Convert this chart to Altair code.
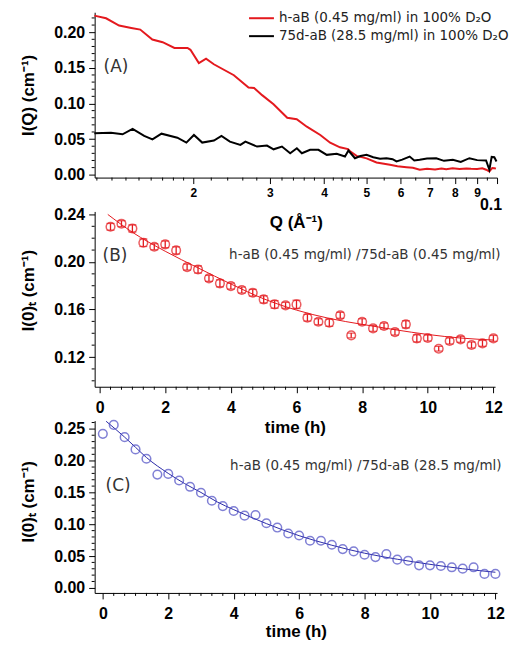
import altair as alt
import pandas as pd

# ---------------- Panel A: I(Q) vs Q (log) ----------------
q_red = [0.01184, 0.0126, 0.0135, 0.0144, 0.0151, 0.0161, 0.0170, 0.0181, 0.0194, 0.0197,
         0.0206, 0.0214, 0.0223, 0.0248, 0.0268, 0.0276, 0.0288, 0.0306, 0.0329, 0.0346,
         0.0365, 0.0392, 0.0413, 0.0435, 0.0454, 0.0459, 0.0475, 0.0501, 0.0528, 0.0567,
         0.0590, 0.0619, 0.0640, 0.0664, 0.0690, 0.0720, 0.0745, 0.0764, 0.0790, 0.0820,
         0.0850, 0.0871, 0.0900, 0.0925, 0.0944, 0.0960, 0.0975, 0.0986, 0.0994]
i_red = [0.2233, 0.2195, 0.2093, 0.2060, 0.2037, 0.1898, 0.1860, 0.1780, 0.1780, 0.1753,
         0.1567, 0.1628, 0.1550, 0.1396, 0.1223, 0.1218, 0.1117, 0.0990, 0.0800, 0.0780,
         0.0674, 0.0558, 0.0450, 0.0385, 0.0360, 0.0330, 0.0265, 0.0230, 0.0172, 0.0140,
         0.0120, 0.0106, 0.0098, 0.0070, 0.0085, 0.0075, 0.0088, 0.0078, 0.0090, 0.0080,
         0.0088, 0.0084, 0.0082, 0.0090, 0.0070, 0.0046, 0.0095, 0.0092, 0.0085]

q_black = [0.01184, 0.01293, 0.01375, 0.0145, 0.01542, 0.01611, 0.0169, 0.01838, 0.01928, 0.02007,
           0.02097, 0.02231, 0.02322, 0.02428, 0.02567, 0.02636, 0.02804, 0.02955, 0.03061, 0.03199,
           0.03342, 0.03462, 0.03555, 0.03714, 0.03882, 0.04057, 0.04276, 0.04468, 0.0455, 0.0471,
           0.04850, 0.05009, 0.0519, 0.05380, 0.05566, 0.0575, 0.0587, 0.0605, 0.06294, 0.0645,
           0.06636, 0.0690, 0.07246, 0.0755, 0.07914, 0.0825, 0.08638, 0.0900, 0.09435, 0.09601,
           0.0972, 0.09857, 0.0997]
i_black = [0.0581, 0.0590, 0.0567, 0.0642, 0.0544, 0.0497, 0.0576, 0.0520, 0.0451, 0.0558,
           0.0451, 0.0479, 0.0544, 0.0465, 0.0419, 0.0465, 0.0395, 0.0409, 0.0357, 0.0395,
           0.0301, 0.0371, 0.0301, 0.0349, 0.0349, 0.0279, 0.0293, 0.0255, 0.0339, 0.0232,
           0.0262, 0.0279, 0.0246, 0.0225, 0.0232, 0.0218, 0.0186, 0.0212, 0.0255, 0.0200,
           0.0209, 0.0228, 0.0232, 0.0195, 0.0209, 0.0180, 0.0232, 0.0205, 0.0200, 0.0070,
           0.0250, 0.0246, 0.0186]

legend_labels = ["h-aB (0.45 mg/ml) in 100% D\u2082O", "75d-aB (28.5 mg/ml) in 100% D\u2082O"]
legend_colors = ["#e4191e", "#000000"]

# ---------------- Panel B ----------------
t_b = [0.333, 0.667, 1.0, 1.333, 1.667, 2.0, 2.333, 2.667, 3.0, 3.333, 3.667, 4.0,
       4.333, 4.667, 5.0, 5.333, 5.667, 6.0, 6.333, 6.667, 7.0, 7.333, 7.667, 8.0,
       8.333, 8.667, 9.0, 9.333, 9.667, 10.0, 10.333, 10.667, 11.0, 11.333, 11.667, 12.0]
i_b = [0.2296, 0.2322, 0.2282, 0.2162, 0.2128, 0.2148, 0.2097, 0.1957, 0.1937, 0.1862, 0.1820, 0.1797,
       0.1764, 0.1741, 0.1685, 0.1643, 0.1635, 0.1643, 0.1531, 0.1497, 0.1489, 0.1551, 0.1382, 0.1497,
       0.1441, 0.1461, 0.1410, 0.1475, 0.1357, 0.1360, 0.1270, 0.1335, 0.1349, 0.1301, 0.1315, 0.1357]
err_b = [0.0028, 0.0025, 0.0030, 0.0032, 0.0025, 0.0028, 0.0030, 0.0025, 0.0030, 0.0025, 0.0030, 0.0025,
         0.0025, 0.0028, 0.0030, 0.0032, 0.0025, 0.0035, 0.0028, 0.0025, 0.0030, 0.0025, 0.0020, 0.0025,
         0.0025, 0.0025, 0.0025, 0.0030, 0.0030, 0.0025, 0.0020, 0.0025, 0.0025, 0.0025, 0.0025, 0.0025]
fit_t_b = [0.25, 1.0, 2.0, 3.0, 4.0, 5.0, 6.0, 7.0, 8.0, 9.0, 10.0, 11.0, 12.0]
fit_i_b = [0.2400, 0.2250, 0.2090, 0.1950, 0.1815, 0.1690, 0.1595, 0.1525, 0.1475, 0.1430, 0.1390, 0.1360, 0.1343]

# ---------------- Panel C ----------------
t_c = [0.0, 0.333, 0.667, 1.0, 1.333, 1.667, 2.0, 2.333, 2.667, 3.0, 3.333, 3.667, 4.0,
       4.333, 4.667, 5.0, 5.333, 5.667, 6.0, 6.333, 6.667, 7.0, 7.333, 7.667, 8.0,
       8.333, 8.667, 9.0, 9.333, 9.667, 10.0, 10.333, 10.667, 11.0, 11.333, 11.667, 12.0]
i_c = [0.2422, 0.2563, 0.2370, 0.2177, 0.2031, 0.1781, 0.1792, 0.1688, 0.1589, 0.1495, 0.1370, 0.1286, 0.1208,
       0.1135, 0.1146, 0.1016, 0.0948, 0.0854, 0.0823, 0.0740, 0.0740, 0.0677, 0.0609, 0.0573, 0.0521,
       0.0484, 0.0531, 0.0443, 0.0427, 0.0354, 0.0354, 0.0344, 0.0323, 0.0302, 0.0323, 0.0219, 0.0219]
fit_t_c = [0.1, 0.667, 1.0, 1.333, 2.0, 2.5, 3.0, 3.5, 4.0, 5.0, 6.0, 7.0, 8.0, 9.0, 10.0, 11.0, 12.0]
fit_i_c = [0.2620, 0.2370, 0.2210, 0.2050, 0.1800, 0.1640, 0.1500, 0.1350, 0.1230, 0.1010, 0.0820,
           0.0670, 0.0545, 0.0450, 0.0370, 0.0300, 0.0245]

ann_b = "h-aB (0.45 mg/ml) /75d-aB (0.45 mg/ml)"
ann_c = "h-aB (0.45 mg/ml) /75d-aB (28.5 mg/ml)"

# tick positions
qa_major = [0.02, 0.03, 0.04, 0.05, 0.06, 0.07, 0.08, 0.09, 0.1]
qa_minor = [0.012, 0.013, 0.014, 0.015, 0.016, 0.017, 0.018, 0.019,
            0.022, 0.024, 0.026, 0.028, 0.032, 0.034, 0.036, 0.038,
            0.042, 0.044, 0.046, 0.048, 0.055, 0.065, 0.075, 0.085, 0.095]
ya_major = [0.0, 0.05, 0.10, 0.15, 0.20]
ya_minor = [0.01, 0.02, 0.03, 0.04, 0.06, 0.07, 0.08, 0.09, 0.11, 0.12, 0.13, 0.14,
            0.16, 0.17, 0.18, 0.19, 0.21, 0.22]
t_major = [0, 2, 4, 6, 8, 10, 12]
t_minor = [0.333, 0.667, 1.0, 1.333, 1.667, 2.333, 2.667, 3.0, 3.333, 3.667, 4.333, 4.667, 5.0,
           5.333, 5.667, 6.333, 6.667, 7.0, 7.333, 7.667, 8.333, 8.667, 9.0, 9.333, 9.667,
           10.333, 10.667, 11.0, 11.333, 11.667]
yb_major = [0.12, 0.16, 0.20, 0.24]
yb_minor = [0.10, 0.11, 0.13, 0.14, 0.15, 0.17, 0.18, 0.19, 0.21, 0.22, 0.23]
yc_major = [0.0, 0.05, 0.10, 0.15, 0.20, 0.25]
yc_minor = [0.01, 0.02, 0.03, 0.04, 0.06, 0.07, 0.08, 0.09, 0.11, 0.12, 0.13, 0.14,
            0.16, 0.17, 0.18, 0.19, 0.21, 0.22, 0.23, 0.24, 0.26]

RED = "#e4191e"
BLUE = "#4b4bc4"
NAVY = "#2a2aa6"
TXT = "#333333"
ANN_FONT = "DejaVu Sans"
MAJ, MIN = 6, 3
TITLE_X = -57

WA, HA = 404, 166
WB, HB = 402, 176
WC, HC = 404, 173

# ---------- shared axis / scale definitions (identical in every layer) ----------
scA_x = alt.Scale(type="log", domain=[0.01186, 0.1], nice=False, zero=False)
axA_x = alt.Axis(values=qa_major,
                 labelExpr="datum.value > 0.095 ? '' : format(datum.value*100, '.0f')",
                 tickSize=MAJ, labelFontSize=12, labelPadding=4, labelOverlap=False,
                 title="Q (\u00c5\u207b\u00b9)", titleY=37, titleBaseline="top")
scA_y = alt.Scale(domain=[-0.004, 0.228], nice=False, zero=False)
axA_y = alt.Axis(values=ya_major, format=".2f", tickSize=MAJ, labelPadding=4, labelOverlap=False,
                 title="I(Q) (cm\u207b\u00b9)", titleX=TITLE_X, titleBaseline="bottom")


def axis_t(ty):
    return alt.Axis(values=t_major, format=".0f", tickSize=MAJ, labelPadding=7, labelOverlap=False,
                    title="time (h)", titleY=ty, titleBaseline="top")


scB_x = alt.Scale(domain=[-0.15, 12.05], nice=False, zero=False)
scB_y = alt.Scale(domain=[0.095, 0.2425], nice=False, zero=False)
axB_y = alt.Axis(values=yb_major, format=".2f", tickSize=MAJ, labelPadding=4, labelOverlap=False,
                 title="I(0)\u209c (cm\u207b\u00b9)", titleX=TITLE_X, titleY=79, titleBaseline="bottom")
scC_x = alt.Scale(domain=[-0.25, 12.05], nice=False, zero=False)
scC_y = alt.Scale(domain=[-0.008, 0.263], nice=False, zero=False)
axC_y = alt.Axis(values=yc_major, format=".2f", tickSize=MAJ, labelPadding=4, labelOverlap=False,
                 title="I(0)\u209c (cm\u207b\u00b9)", titleX=TITLE_X, titleY=81, titleBaseline="bottom")


def X(field, sc, ax):
    return alt.X(f"{field}:Q", scale=sc, axis=ax)


def Y(field, sc, ax):
    return alt.Y(f"{field}:Q", scale=sc, axis=ax)


def minor_x(vals, h, xenc):
    return alt.Chart(pd.DataFrame({"v": vals})).mark_rule(color="black", strokeWidth=1).encode(
        x=xenc("v"), y=alt.value(h), y2=alt.value(h + MIN))


def minor_y(vals, yenc):
    return alt.Chart(pd.DataFrame({"v": vals})).mark_rule(color="black", strokeWidth=1).encode(
        y=yenc("v"), x=alt.value(0), x2=alt.value(-MIN))


def text_mark(txt, x, y, size, font=ANN_FONT, color=TXT):
    return alt.Chart(pd.DataFrame({"s": [txt]})).mark_text(
        align="left", baseline="middle", font=font, fontSize=size, color=color).encode(
        x=alt.value(x), y=alt.value(y), text="s:N")


# ---------- Panel A ----------
xa = lambda f: X(f, scA_x, axA_x)
ya = lambda f: Y(f, scA_y, axA_y)

dfA_red = pd.DataFrame({"Q": q_red, "I": i_red})
dfA_blk = pd.DataFrame({"Q": q_black, "I": i_black})

lineA_red = alt.Chart(dfA_red).mark_line(color=RED, strokeWidth=2).encode(x=xa("Q"), y=ya("I"))
lineA_blk = alt.Chart(dfA_blk).mark_line(color="black", strokeWidth=2).encode(x=xa("Q"), y=ya("I"))

tick01 = alt.Chart(pd.DataFrame({"Q": [0.1], "lab": ["0.1"]})).mark_text(
    font="Liberation Sans", fontWeight="bold", fontSize=16, color="black", baseline="top", dx=-6
).encode(x=xa("Q"), y=alt.value(HA + 20), text="lab:N")

leg_df = pd.DataFrame({"label": legend_labels, "color": legend_colors})
leg_rule_r = alt.Chart(leg_df.iloc[[0]]).mark_rule(color=legend_colors[0], strokeWidth=2).encode(
    x=alt.value(155), x2=alt.value(180), y=alt.value(6))
leg_rule_b = alt.Chart(leg_df.iloc[[1]]).mark_rule(color=legend_colors[1], strokeWidth=2).encode(
    x=alt.value(155), x2=alt.value(180), y=alt.value(24))
leg_txt_r = alt.Chart(leg_df.iloc[[0]]).mark_text(
    align="left", baseline="middle", font=ANN_FONT, fontSize=13.5, color="#222222").encode(
    x=alt.value(185), y=alt.value(6), text="label:N")
leg_txt_b = alt.Chart(leg_df.iloc[[1]]).mark_text(
    align="left", baseline="middle", font=ANN_FONT, fontSize=13.5, color="#222222").encode(
    x=alt.value(185), y=alt.value(24), text="label:N")

chartA = alt.layer(
    lineA_red, lineA_blk, minor_x(qa_minor, HA, xa), minor_y(ya_minor, ya), tick01,
    leg_rule_r, leg_rule_b, leg_txt_r, leg_txt_b, text_mark("(A)", 9, 55, 17)
).properties(width=WA, height=HA)

# ---------- Panel B ----------
axBx = axis_t(33)
xb = lambda f: X(f, scB_x, axBx)
yb = lambda f: Y(f, scB_y, axB_y)

dfB = pd.DataFrame({"t": t_b, "I": i_b, "lo": [a - e for a, e in zip(i_b, err_b)],
                    "hi": [a + e for a, e in zip(i_b, err_b)]})
dfBfit = pd.DataFrame({"t": fit_t_b, "I": fit_i_b})

fitB = alt.Chart(dfBfit).mark_line(color=RED, strokeWidth=1, interpolate="monotone").encode(
    x=xb("t"), y=yb("I"))
errB = alt.Chart(dfB).mark_rule(color=RED, strokeWidth=1.3).encode(x=xb("t"), y=yb("lo"), y2="hi:Q")
capLo = alt.Chart(dfB).mark_tick(color=RED, orient="horizontal", size=8, thickness=1.3).encode(
    x=xb("t"), y=yb("lo"))
capHi = alt.Chart(dfB).mark_tick(color=RED, orient="horizontal", size=8, thickness=1.3).encode(
    x=xb("t"), y=yb("hi"))
ptsB = alt.Chart(dfB).mark_point(shape="circle", filled=False, color=RED, size=75, strokeWidth=1.5).encode(
    x=xb("t"), y=yb("I"))
chartB = alt.layer(
    fitB, errB, capLo, capHi, ptsB, minor_x(t_minor, HB, xb), minor_y(yb_minor, yb),
    text_mark("(B)", 8, 45, 17), text_mark(ann_b, 135, 44, 13.5)
).properties(width=WB, height=HB)

# ---------- Panel C ----------
axCx = axis_t(31)
xc = lambda f: X(f, scC_x, axCx)
yc = lambda f: Y(f, scC_y, axC_y)

dfC = pd.DataFrame({"t": t_c, "I": i_c})
dfCfit = pd.DataFrame({"t": fit_t_c, "I": fit_i_c})
fitC = alt.Chart(dfCfit).mark_line(color=NAVY, strokeWidth=1, interpolate="monotone").encode(
    x=xc("t"), y=yc("I"))
ptsC = alt.Chart(dfC).mark_point(shape="circle", filled=False, color=BLUE, size=75, strokeWidth=1.5).encode(
    x=xc("t"), y=yc("I"))
chartC = alt.layer(
    fitC, ptsC, minor_x(t_minor, HC, xc), minor_y(yc_minor, yc),
    text_mark("(C)", 11, 66, 17), text_mark(ann_c, 136, 46, 13.5)
).properties(width=WC, height=HC)

chart = alt.vconcat(chartA, chartB, chartC, spacing=34, bounds="flush").properties(
    padding={"top": 2, "left": 12, "right": 0, "bottom": 0}
).configure_view(stroke=None).configure_axis(
    grid=False, domainColor="black", tickColor="black", domainWidth=1, tickWidth=1,
    labelFont="Liberation Sans", labelFontWeight="bold", labelFontSize=16, labelColor="black",
    titleFont="Liberation Sans", titleFontWeight="bold", titleFontSize=17, titleColor="black",
)

chart.save("out.html", embed_options={"renderer": "svg", "actions": False})
